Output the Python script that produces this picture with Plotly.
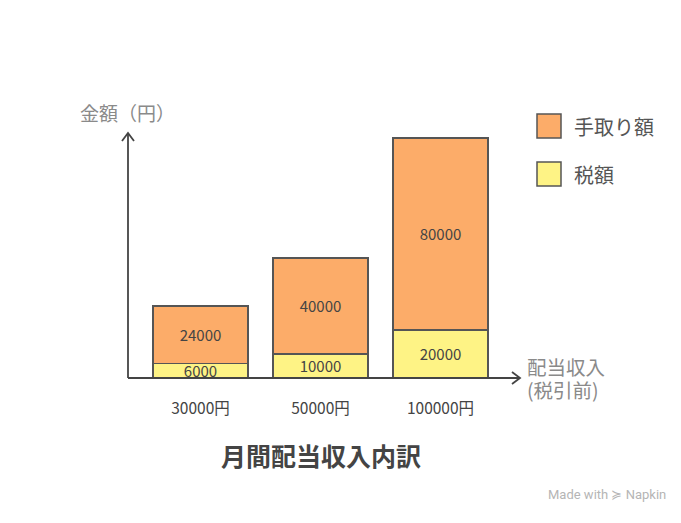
import plotly.graph_objects as go

# 月間配当収入 (税引前) ごとの内訳
categories = ["30000円", "50000円", "100000円"]
tax = [6000, 10000, 20000]
take_home = [24000, 40000, 80000]

font_jp = "Noto Sans CJK JP"
orange = "#FCAC69"
yellow = "#FEF385"
edge = "#555555"

x_pos = list(range(len(categories)))

# plot area in pixels: x 128..520, y 133..378
L, R, T, B = 128, 520, 133, 378


def px(x):
    return (x - L) / (R - L)


def py(y):
    return (B - y) / (B - T)


fig = go.Figure()
fig.add_trace(go.Bar(
    x=x_pos, y=tax, name="税額", width=0.79,
    marker=dict(color=yellow, line=dict(color=edge, width=1.5)),
    text=[str(v) for v in tax], textposition="inside", insidetextanchor="middle",
    textfont=dict(size=15, color="#444444", family=font_jp),
))
fig.add_trace(go.Bar(
    x=x_pos, y=take_home, name="手取り額", width=0.79,
    marker=dict(color=orange, line=dict(color=edge, width=1.5)),
    text=[str(v) for v in take_home], textposition="inside", insidetextanchor="middle",
    textfont=dict(size=15, color="#444444", family=font_jp),
))

fig.update_layout(
    barmode="stack",
    width=681, height=523,
    margin=dict(l=L, r=681 - R, t=T, b=523 - B),
    paper_bgcolor="white", plot_bgcolor="white",
    showlegend=False,
    uniformtext=dict(minsize=15, mode="show"),
    font=dict(family=font_jp, color="#444444"),
    xaxis=dict(range=[-0.604, 2.6625], tickvals=x_pos, ticktext=categories,
               showgrid=False, zeroline=False, showline=False, ticks="",
               tickfont=dict(size=15.5, color="#444444"), ticklabelstandoff=19),
    yaxis=dict(range=[0, 102000], showgrid=False, zeroline=False,
               showline=False, showticklabels=False, ticks=""),
)

# axes with arrow heads
axis_line = dict(color="#444444", width=1.8)
fig.add_shape(type="line", xref="x domain", yref="y domain",
              x0=0, x1=0, y0=0, y1=1, line=axis_line)
fig.add_shape(type="line", xref="x domain", yref="y domain",
              x0=0, x1=1, y0=0, y1=0, line=axis_line)
fig.add_shape(type="path", xref="x domain", yref="y domain",
              xsizemode="pixel", ysizemode="pixel", xanchor=0, yanchor=1,
              path="M -6,-8 L 0,0 L 6,-8", line=axis_line)
fig.add_shape(type="path", xref="x domain", yref="y domain",
              xsizemode="pixel", ysizemode="pixel", xanchor=1, yanchor=0,
              path="M -8,6 L 0,0 L -8,-6", line=axis_line)

# axis titles
fig.add_annotation(text="金額（円）", xref="paper", yref="paper",
                   x=px(78), y=py(113), xanchor="left", yanchor="middle",
                   showarrow=False, font=dict(size=19, color="#8a8a8a"))
for line_text, yc in [("配当収入", 366), ("(税引前)", 389)]:
    fig.add_annotation(text=line_text, xref="paper", yref="paper",
                       x=px(525), y=py(yc), xanchor="left", yanchor="middle",
                       showarrow=False, font=dict(size=19.5, color="#8a8a8a"))

# legend
legend_items = [("手取り額", orange, 126), ("税額", yellow, 174)]
for label, color, yc in legend_items:
    fig.add_shape(type="rect", xref="paper", yref="paper",
                  x0=px(537), x1=px(561), y0=py(yc + 12), y1=py(yc - 12),
                  fillcolor=color, line=dict(color=edge, width=1.5))
    fig.add_annotation(text=label, xref="paper", yref="paper",
                       x=px(572), y=py(yc), xanchor="left", yanchor="middle",
                       showarrow=False, font=dict(size=20, color="#555555"))

# title
fig.add_annotation(text="<b>月間配当収入内訳</b>", xref="paper", yref="paper",
                   x=px(321), y=py(455), xanchor="center", yanchor="middle",
                   showarrow=False, font=dict(size=25, color="#444444"))

fig.add_annotation(text="Made with ≽ Napkin", xref="paper", yref="paper",
                   x=px(668), y=py(494), xanchor="right", yanchor="middle",
                   showarrow=False, font=dict(size=13, color="#b5b5b5", family="Roboto"))

fig.write_html("out.html", config={"displayModeBar": False},
               post_script="document.body.style.margin='0';")
